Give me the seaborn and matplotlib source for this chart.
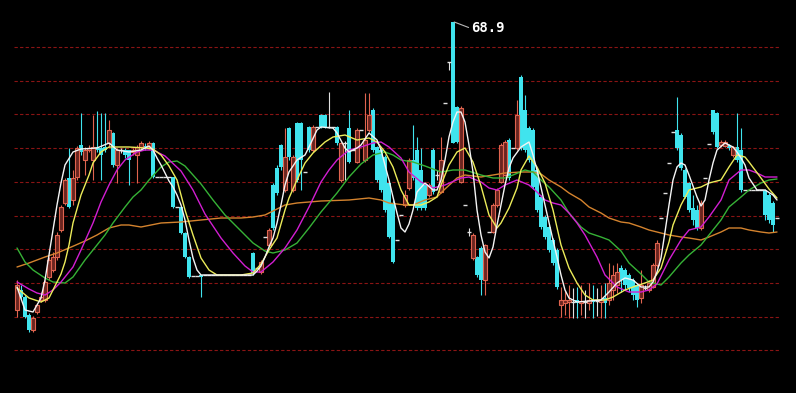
import matplotlib
matplotlib.use("Agg")
import matplotlib.pyplot as plt
import seaborn as sns
import numpy as np

# ---------------- data ----------------
days = list(range(191))

opens = [40.1, 42.1, 41.4, 39.6, 38.1, 39.9, 41.1, 41.1, 43.4, 44.1,
         45.4, 48.1, 50.8, 53.3, 51.1, 53.4, 56.6, 55.1, 56.1, 55.1,
         56.4, 56.3, 56.4, 56.8, 57.8, 54.6, 56.1, 56.1, 56.1, 55.9,
         55.6, 56.4, 56.5, 56.4, 56.8, 53.4, 53.4, 53.4, 53.4, 53.4,
         50.4, 50.4, 47.8, 45.4, 43.5, 43.5, 43.6, 43.6, 43.6, 43.6,
         43.6, 43.6, 43.6, 43.6, 43.6, 43.6, 43.6, 43.6, 43.6, 45.8,
         44.3, 43.9, 47.4, 46.6, 52.6, 54.3, 56.6, 52.1, 58.3, 52.1,
         58.8, 58.8, 53.9, 58.4, 56.1, 58.4, 59.6, 59.6, 58.4, 58.4,
         58.4, 53.1, 56.8, 58.3, 56.1, 54.9, 58.1, 55.1, 58.1, 60.1,
         56.4, 56.1, 55.4, 52.8, 50.8, 47.1, 49.6, 50.6, 52.3, 55.1,
         56.1, 54.1, 52.6, 51.6, 56.1, 53.6, 51.9, 60.8, 64.9, 68.9,
         60.4, 52.9, 50.6, 47.9, 45.3, 45.4, 46.3, 43.1, 47.9, 47.9,
         50.6, 52.9, 53.6, 57.1, 56.3, 56.3, 63.4, 60.1, 58.3, 58.1,
         54.1, 51.4, 49.4, 48.4, 47.1, 46.1, 40.6, 40.8, 40.9, 40.9,
         41.1, 40.8, 40.9, 40.8, 41.1, 41.0, 40.9, 41.3, 41.1, 42.1,
         42.6, 44.3, 44.1, 43.6, 43.1, 42.6, 41.3, 42.3, 42.1, 42.4,
         44.6, 49.3, 51.8, 54.8, 57.9, 58.1, 57.6, 54.1, 52.8, 50.3,
         50.1, 48.3, 53.3, 56.7, 60.1, 59.8, 56.6, 56.5, 56.6, 55.6,
         56.4, 56.1, 52.1, 52.1, 52.1, 52.1, 52.1, 52.1, 51.6, 50.8,
         49.3]

highs = [43.1, 42.6, 41.6, 39.8, 39.5, 40.8, 41.9, 43.1, 45.4, 45.9,
         47.9, 50.6, 53.3, 56.3, 54.1, 56.5, 59.8, 56.4, 56.6, 59.6,
         60.0, 59.8, 59.8, 59.1, 57.9, 56.3, 56.3, 56.3, 56.1, 56.3,
         56.6, 57.0, 56.8, 57.0, 56.9, 53.4, 53.4, 53.4, 53.4, 53.4,
         50.4, 50.5, 47.9, 45.5, 43.5, 43.5, 43.6, 43.6, 43.6, 43.6,
         43.6, 43.6, 43.6, 43.6, 43.6, 43.6, 43.6, 43.6, 43.6, 45.9,
         44.3, 45.1, 47.4, 48.3, 52.8, 54.6, 56.7, 58.3, 58.4, 55.6,
         58.9, 58.9, 53.9, 58.5, 58.6, 58.4, 59.7, 59.7, 61.9, 58.4,
         58.5, 56.9, 57.0, 60.1, 56.1, 58.3, 58.1, 61.8, 61.8, 60.3,
         56.5, 56.3, 55.6, 53.1, 51.1, 47.1, 49.6, 52.1, 55.3, 58.6,
         57.4, 56.3, 52.7, 52.8, 56.3, 54.1, 57.4, 60.8, 64.9, 68.9,
         60.5, 60.5, 50.6, 48.3, 47.8, 45.5, 46.5, 46.7, 47.9, 50.8,
         52.3, 56.8, 57.1, 57.3, 56.3, 61.1, 63.6, 61.6, 58.5, 58.3,
         54.3, 51.6, 49.6, 48.6, 47.3, 46.3, 42.4, 42.1, 42.6, 42.3,
         42.4, 42.6, 42.1, 42.8, 42.6, 42.3, 42.6, 42.8, 44.8, 44.6,
         44.8, 44.6, 44.3, 43.8, 43.3, 42.8, 44.1, 42.6, 43.1, 44.8,
         47.1, 49.3, 51.8, 54.8, 57.9, 61.4, 57.8, 54.3, 52.9, 51.6,
         50.6, 51.1, 53.3, 56.7, 60.1, 59.9, 57.1, 57.1, 56.7, 56.5,
         59.8, 58.3, 52.1, 52.1, 52.1, 52.1, 52.1, 52.2, 51.8, 51.0,
         49.3]

lows = [39.4, 41.1, 39.3, 37.9, 37.9, 39.7, 40.9, 40.9, 43.1, 43.9,
        45.1, 47.9, 50.6, 50.3, 50.6, 53.1, 55.6, 53.6, 55.9, 53.1,
        55.9, 53.1, 55.9, 56.4, 54.4, 52.8, 55.8, 55.3, 52.6, 55.6,
        52.8, 56.2, 56.1, 56.2, 53.3, 53.4, 53.4, 53.4, 53.4, 50.3,
        50.4, 47.7, 45.3, 43.3, 43.5, 43.5, 41.4, 43.6, 43.6, 43.6,
        43.6, 43.6, 43.6, 43.6, 43.6, 43.6, 43.6, 43.6, 43.6, 43.6,
        44.3, 43.7, 47.4, 46.4, 48.1, 51.6, 54.1, 51.9, 55.1, 51.9,
        52.9, 52.1, 53.9, 55.9, 55.9, 58.4, 58.3, 58.3, 58.3, 58.4,
        56.6, 52.9, 53.1, 54.8, 56.1, 54.8, 58.1, 54.9, 57.9, 55.9,
        52.9, 51.9, 49.9, 47.3, 44.8, 47.1, 49.6, 50.4, 52.1, 53.1,
        50.1, 50.1, 50.1, 51.4, 51.7, 53.1, 51.8, 60.8, 64.1, 56.8,
        56.8, 52.8, 50.6, 47.5, 45.1, 43.4, 41.6, 41.6, 47.9, 47.8,
        50.4, 52.8, 53.5, 53.1, 56.3, 56.1, 56.1, 55.9, 54.9, 52.2,
        49.9, 48.2, 47.2, 45.9, 44.6, 42.2, 39.4, 39.6, 39.3, 39.3,
        39.3, 39.6, 39.3, 40.1, 39.3, 39.5, 39.3, 39.3, 40.6, 41.1,
        41.8, 41.9, 42.1, 41.9, 41.1, 40.4, 40.8, 42.1, 41.9, 42.3,
        44.4, 49.3, 51.8, 54.8, 57.9, 56.1, 54.1, 51.3, 49.9, 48.6,
        48.1, 48.1, 53.3, 56.7, 57.7, 56.3, 56.4, 56.4, 56.1, 55.4,
        54.9, 51.9, 52.1, 52.1, 52.1, 52.1, 52.1, 49.1, 48.8, 47.9,
        49.3]

closes = [42.6, 41.4, 39.4, 38.1, 39.3, 40.6, 41.4, 42.9, 45.1, 45.4,
          47.6, 50.4, 53.1, 50.4, 53.3, 56.3, 55.9, 56.1, 56.3, 56.4,
          56.1, 55.6, 56.1, 58.1, 54.6, 56.1, 56.1, 55.6, 55.1, 56.1,
          56.4, 56.8, 56.4, 56.8, 53.4, 53.4, 53.4, 53.4, 53.4, 50.4,
          50.4, 47.8, 45.4, 43.4, 43.5, 43.5, 43.4, 43.6, 43.6, 43.6,
          43.6, 43.6, 43.6, 43.6, 43.6, 43.6, 43.6, 43.6, 43.6, 43.8,
          44.3, 44.9, 47.4, 48.1, 48.3, 51.8, 54.4, 55.4, 55.4, 55.4,
          53.1, 55.1, 53.9, 56.1, 58.4, 58.4, 58.4, 58.4, 58.4, 58.4,
          56.8, 56.8, 56.8, 54.9, 56.1, 58.1, 58.1, 57.1, 59.6, 56.1,
          53.1, 52.1, 50.1, 47.4, 44.9, 47.1, 49.6, 51.6, 55.1, 53.3,
          50.3, 50.3, 50.3, 52.6, 51.9, 53.6, 55.1, 60.8, 64.9, 56.8,
          56.9, 60.3, 50.6, 47.9, 47.6, 43.6, 43.1, 46.6, 47.9, 50.6,
          52.1, 56.6, 56.9, 53.3, 56.3, 59.6, 56.3, 56.1, 55.1, 52.4,
          50.1, 48.4, 47.4, 46.1, 44.8, 42.4, 41.1, 41.1, 41.1, 40.9,
          40.8, 41.0, 40.9, 41.1, 40.9, 41.0, 41.1, 40.8, 42.8, 43.6,
          43.9, 43.1, 42.6, 42.3, 41.6, 41.1, 42.6, 42.3, 42.8, 44.6,
          46.8, 49.3, 51.8, 54.8, 57.9, 56.3, 54.3, 51.4, 50.1, 49.1,
          48.3, 50.8, 53.3, 56.7, 57.9, 56.4, 56.9, 56.9, 56.3, 56.4,
          55.1, 52.1, 52.1, 52.1, 52.1, 52.1, 52.1, 49.6, 49.1, 48.6,
          49.3]

# moving-average lines
ma5_days = [0, 2, 4, 6, 7, 8, 9, 10, 11, 12, 14, 16, 20, 23, 25, 28, 31, 33, 34, 35,
            36, 37, 38, 39, 40, 41, 42, 43, 44, 45, 46, 59, 60, 61, 62, 63, 64, 65, 66, 67,
            68, 70, 72, 73, 75, 76, 79, 80, 82, 83, 85, 86, 88, 90, 91, 92, 93, 94, 95, 96,
            97, 98, 99, 100, 102, 104, 105, 106, 107, 108, 109, 110, 111, 112, 113, 114, 115, 116, 117, 118,
            119, 120, 121, 122, 123, 124, 126, 128, 129, 130, 132, 134, 135, 136, 137, 138, 140, 146, 148, 150,
            152, 154, 156, 158, 159, 160, 161, 162, 163, 164, 165, 166, 167, 168, 170, 171, 172, 173, 174, 175,
            177, 179, 180, 181, 182, 183, 185, 187, 189, 190]
ma5_vals = [42.4, 40.1, 39.9, 41.3, 43.1, 45.6, 48.1, 50.6, 52.8, 54.6,
            55.9, 56.2, 56.3, 56.8, 56.1, 55.9, 56.1, 56.5, 56.1, 55.3,
            54.6, 53.8, 53.0, 52.4, 51.6, 50.6, 49.1, 47.1, 45.3, 44.1,
            43.6, 43.6, 44.0, 44.5, 45.4, 46.4, 47.3, 48.8, 50.6, 52.6,
            53.9, 55.1, 55.6, 56.4, 58.1, 58.4, 58.3, 57.8, 56.3, 55.9,
            56.3, 56.6, 57.8, 57.1, 56.1, 54.6, 53.1, 51.4, 49.8, 48.3,
            47.9, 48.7, 50.1, 51.9, 52.8, 52.1, 52.1, 53.1, 55.1, 57.4,
            58.9, 59.9, 59.9, 58.9, 56.6, 53.9, 50.1, 47.6, 45.9, 45.3,
            46.4, 48.6, 50.6, 52.6, 54.3, 55.3, 56.4, 56.9, 55.6, 54.1,
            50.6, 47.1, 45.4, 43.6, 42.1, 41.3, 40.9, 41.1, 41.9, 42.8,
            43.3, 43.1, 42.4, 42.4, 42.9, 43.9, 45.3, 47.9, 50.6, 53.1,
            54.4, 54.8, 54.6, 53.6, 51.4, 50.5, 51.1, 53.1, 54.8, 56.1,
            56.8, 56.4, 55.9, 55.3, 54.6, 53.3, 52.1, 52.1, 51.6, 51.1]

ma10_days = [0, 3, 6, 8, 9, 11, 12, 13, 14, 16, 18, 19, 21, 23, 28, 32, 34, 36, 38, 40,
             42, 44, 46, 48, 50, 56, 59, 61, 63, 65, 67, 68, 70, 72, 74, 77, 79, 82, 85, 88,
             90, 92, 94, 96, 98, 101, 103, 105, 106, 108, 110, 112, 114, 116, 118, 120, 121, 123, 125, 126,
             128, 130, 132, 134, 136, 138, 140, 142, 144, 147, 149, 152, 154, 157, 159, 161, 163, 164, 166, 168,
             171, 173, 176, 178, 180, 182, 183, 186, 188, 190]
ma10_vals = [42.3, 41.3, 40.9, 41.3, 42.1, 43.7, 44.9, 46.6, 48.8, 51.6,
             53.6, 54.8, 55.9, 56.4, 56.4, 56.3, 56.2, 55.6, 54.5, 53.1,
             50.1, 47.6, 45.3, 44.1, 43.6, 43.6, 43.8, 44.7, 46.1, 47.3,
             50.1, 51.3, 53.1, 54.8, 55.8, 56.9, 57.4, 57.6, 57.1, 57.3,
             56.9, 55.9, 54.4, 52.1, 50.6, 50.6, 50.9, 51.4, 52.6, 54.6,
             55.9, 56.3, 54.9, 52.5, 49.6, 48.3, 48.8, 50.3, 52.3, 54.1,
             55.5, 54.4, 52.8, 50.1, 46.6, 44.3, 42.8, 41.6, 41.1, 41.1,
             41.4, 42.1, 42.4, 42.8, 43.1, 44.3, 46.9, 48.6, 50.6, 52.1,
             52.4, 52.8, 53.1, 54.4, 55.6, 55.4, 54.9, 53.3, 52.2, 51.3]

ma20_days = [0, 3, 5, 7, 9, 11, 14, 16, 19, 21, 23, 25, 27, 30, 32, 34, 37, 41, 44, 47,
             51, 54, 57, 59, 61, 64, 67, 70, 73, 76, 78, 80, 83, 86, 89, 91, 93, 96, 98, 101,
             104, 107, 111, 113, 116, 118, 120, 122, 125, 128, 130, 132, 134, 136, 138, 140, 142, 145, 147, 150,
             153, 156, 158, 160, 163, 166, 168, 171, 173, 176, 178, 181, 183, 185, 187, 190]
ma20_vals = [42.9, 42.2, 41.8, 41.6, 42.1, 42.9, 44.4, 46.1, 48.8, 50.9,
             52.6, 54.1, 55.1, 55.9, 56.1, 56.1, 55.5, 54.0, 52.1, 49.7,
             47.3, 45.8, 44.5, 43.9, 43.9, 44.9, 46.3, 48.1, 50.4, 52.9,
             54.1, 55.1, 56.1, 56.4, 56.8, 56.9, 56.4, 55.3, 53.9, 52.9,
             52.3, 52.6, 53.3, 53.4, 52.9, 52.3, 52.1, 52.6, 53.1, 52.6,
             51.9, 51.1, 50.8, 50.6, 49.8, 48.8, 47.6, 45.4, 43.6, 42.4,
             41.9, 41.9, 42.1, 42.7, 45.1, 47.1, 48.1, 48.4, 49.4, 51.1,
             53.1, 54.1, 54.1, 53.8, 53.4, 53.4]

ma30_days = [0, 2, 4, 7, 9, 12, 14, 17, 19, 22, 24, 27, 29, 31, 33, 36, 38, 40, 42, 46,
             49, 52, 56, 59, 62, 64, 67, 70, 73, 76, 80, 83, 86, 89, 92, 94, 96, 99, 102, 106,
             109, 112, 116, 119, 122, 124, 127, 129, 131, 133, 136, 138, 141, 143, 146, 148, 151, 153, 156, 158,
             161, 163, 166, 168, 171, 173, 176, 178, 181, 183, 186, 188, 190]
ma30_vals = [46.3, 44.9, 44.1, 43.3, 42.9, 42.8, 43.4, 45.1, 46.1, 47.6,
             48.8, 50.4, 51.4, 52.1, 53.1, 54.4, 54.9, 55.0, 54.5, 52.7,
             51.1, 49.6, 48.0, 46.8, 46.0, 45.8, 46.1, 46.8, 48.3, 49.9,
             51.8, 53.4, 54.7, 55.6, 55.9, 55.6, 55.1, 54.9, 54.5, 53.9,
             54.1, 54.1, 53.6, 53.3, 53.3, 53.6, 54.1, 53.9, 53.1, 52.4,
             51.1, 49.8, 48.4, 47.8, 47.4, 47.1, 46.0, 44.8, 43.7, 42.9,
             42.6, 43.4, 44.8, 45.6, 46.6, 47.6, 49.1, 50.4, 51.4, 52.1,
             52.8, 53.1, 53.2]

ma60_days = [0, 3, 7, 10, 13, 17, 20, 23, 26, 28, 31, 36, 41, 46, 51, 56, 59, 62, 64, 67,
             70, 76, 83, 88, 91, 93, 97, 99, 102, 105, 107, 110, 112, 116, 119, 122, 126, 129, 131, 133,
             136, 138, 141, 143, 146, 148, 151, 153, 156, 158, 161, 163, 166, 168, 171, 173, 176, 178, 181, 183,
             186, 188, 190]
ma60_vals = [44.4, 44.8, 45.4, 45.8, 46.3, 47.0, 47.6, 48.3, 48.6, 48.6,
             48.4, 48.8, 48.9, 49.1, 49.3, 49.3, 49.4, 49.6, 50.0, 50.6,
             50.8, 51.0, 51.1, 51.3, 51.1, 50.8, 50.6, 50.6, 51.1, 51.4,
             52.2, 53.3, 53.6, 53.4, 53.6, 53.8, 53.9, 53.9, 53.7, 53.1,
             52.4, 51.8, 51.1, 50.4, 49.8, 49.3, 48.9, 48.8, 48.4, 48.1,
             47.8, 47.6, 47.4, 47.3, 47.1, 47.4, 47.9, 48.3, 48.3, 48.1,
             47.9, 47.8, 47.9]

grid_levels = [66.4, 63.03, 59.66, 56.29, 52.92, 49.55, 46.18, 42.81, 39.44, 36.07]

peak_day = 109
peak_value = 68.9
peak_label = "68.9"

# ---------------- style ----------------
RED = "#E0644F"
RED_FILL = "#6A2520"
CYAN = "#40E4EE"
DOJI = "#E0E0E0"
GRID = "#8A1414"

sns.set_style("dark", {"axes.facecolor": "black", "figure.facecolor": "black"})
plt.rcParams["font.family"] = ["DejaVu Sans"]

fig = plt.figure(figsize=(7.96, 3.93), dpi=100)
fig.patch.set_facecolor("black")
ax = fig.add_axes([0, 0, 1, 1])
ax.set_facecolor("black")
ax.set_xlim(-4.25, 194.75)
ax.set_ylim(31.8, 71.1)
ax.axis("off")

# dashed horizontal grid
ax.hlines(grid_levels, -0.75, 190.75, colors=GRID, linestyles=(0, (3, 2)),
          linewidth=0.8, zorder=1)

x = np.array(days, dtype=float)
o = np.array(opens)
h = np.array(highs)
l = np.array(lows)
c = np.array(closes)
for arr in (o, h, l, c):
    assert len(arr) == len(x)

up = c > o
down = c < o
flat = c == o

# wicks
ax.vlines(x[up], l[up], h[up], color=RED, linewidth=0.8, zorder=2)
ax.vlines(x[down], l[down], h[down], color=CYAN, linewidth=0.8, zorder=2)
ax.vlines(x[flat], l[flat], h[flat], color=DOJI, linewidth=0.8, zorder=2)

# bodies
ax.bar(x[down], (o - c)[down], bottom=c[down], width=0.8, color=CYAN,
       linewidth=0, zorder=3)
ax.bar(x[up], (c - o)[up], bottom=o[up], width=0.8, facecolor=RED_FILL,
       edgecolor=RED, linewidth=0.8, zorder=3)
ax.hlines(o[flat], x[flat] - 0.45, x[flat] + 0.45, color=DOJI, linewidth=1.0,
          zorder=3)

# moving averages
ma_specs = [
    (ma60_days, ma60_vals, "#D4832E"),
    (ma30_days, ma30_vals, "#36B236"),
    (ma20_days, ma20_vals, "#D21ED2"),
    (ma10_days, ma10_vals, "#ECEC5A"),
    (ma5_days, ma5_vals, "#F4F4F4"),
]
for d, v, col in ma_specs:
    assert len(d) == len(v)
    sns.lineplot(x=d, y=v, ax=ax, color=col, linewidth=1.0, sort=False,
                 estimator=None, zorder=4)

# peak annotation
ax.plot([peak_day + 0.3, peak_day + 3.9], [peak_value, peak_value - 0.55],
        color="#B8B8B8", linewidth=0.8, zorder=5)
ax.text(peak_day + 4.6, peak_value - 0.58, peak_label, color="white",
        fontsize=10, fontweight="bold", family="DejaVu Sans Mono",
        ha="left", va="center", zorder=6)

if ax.get_legend() is not None:
    ax.get_legend().remove()

fig.savefig("out.png", dpi=100, facecolor="black")
